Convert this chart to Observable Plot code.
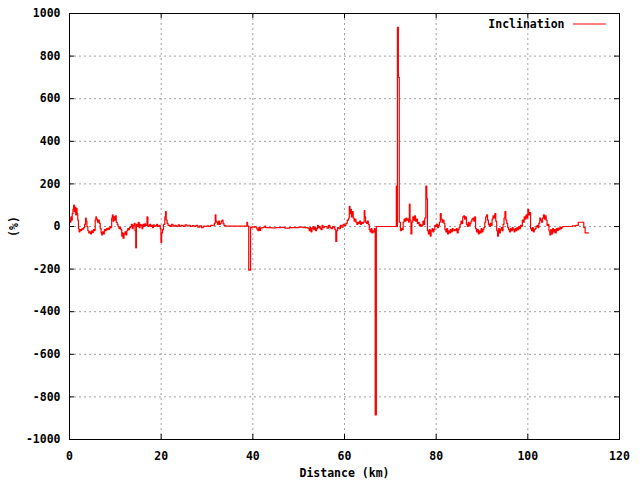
<!DOCTYPE html>
<html><head><meta charset="utf-8">
<script src="https://cdn.jsdelivr.net/npm/d3@7"></script>
<script src="https://cdn.jsdelivr.net/npm/@observablehq/plot@0.6"></script>
<style>body{margin:0;background:#fff} svg{display:block}</style>
</head><body><div id="chart"></div>
<script>
// [distance km, inclination %]
const profile = [
[0.0,35],[0.15,20],[0.3,45],[0.45,30],[0.6,60],[0.75,80],[0.9,100],[1.05,70],[1.2,90],[1.35,55],[1.5,85],[1.65,60],[1.8,30],[1.95,-10],
[2.1,-25],[2.3,-15],[2.5,-18],[2.7,-10],[2.9,-12],[3.1,-5],[3.3,10],[3.5,40],[3.65,25],[3.8,0],[4.0,-20],[4.2,-30],[4.4,-25],[4.6,-35],
[4.8,-20],[5.0,-28],[5.2,-15],[5.4,-20],[5.6,30],[5.75,45],[5.9,35],[6.1,20],[6.3,30],[6.5,15],[6.7,-10],[6.9,-30],[7.05,-40],[7.2,-25],
[7.4,-35],[7.6,-15],[7.8,-20],[8.0,-10],[8.2,-15],[8.4,-8],[8.6,-12],[8.8,0],[9.0,-5],[9.2,40],[9.35,55],[9.5,25],[9.65,45],[9.8,30],
[10.0,50],[10.2,20],[10.4,10],[10.6,0],[10.8,-10],[11.0,-5],[11.2,-15],[11.4,-45],[11.55,-30],[11.7,-55],[11.9,-35],[12.1,-25],[12.3,-40],
[12.5,-20],[12.7,-10],[12.9,-15],[13.1,-5],[13.3,0],[13.5,10],[13.7,-10],[13.9,5],[14.1,15],[14.3,-20],[14.45,-100],[14.6,10],[14.8,0],
[15.0,20],[15.2,-5],[15.4,10],[15.6,5],[15.8,-10],[16.0,10],[16.2,0],[16.4,12],[16.6,5],[16.9,45],[17.1,0],[17.3,5],[17.5,10],[17.7,0],
[17.9,5],[18.1,-5],[18.3,8],[18.5,0],[18.7,3],[19.0,10],[19.2,0],[19.5,5],[19.8,-10],[19.95,-75],[20.1,-30],[20.3,-15],[20.5,10],[20.8,45],
[20.95,70],[21.1,30],[21.3,15],[21.5,5],[21.8,5],[22.0,0],[22.3,10],[22.6,2],[23.0,5],[23.3,0],[23.7,8],[24.0,2],[24.4,5],[24.8,0],
[25.2,8],[25.6,3],[26.0,5],[26.4,0],[26.8,4],[27.2,0],[27.6,5],[28.0,-3],[28.4,3],[28.8,-5],[29.2,2],[29.6,0],[30.0,3],[30.4,0],[30.8,5],
[31.2,5],[31.6,15],[31.8,55],[31.95,25],[32.1,20],[32.3,10],[32.5,25],[32.7,10],[32.9,15],[33.1,25],[33.3,30],[33.5,15],[33.7,5],[34.0,2],
[38.7,20],[38.85,2],[39.1,-205],[39.5,-5],[39.8,-2],[40.1,-3],[40.4,0],[40.7,-5],[40.9,-12],[41.1,-20],[41.3,-5],[41.5,-18],[41.7,-8],
[42.0,-5],[42.3,-3],[42.6,2],[42.8,-5],[43.2,-5],[44.0,-6],[45.0,-5],[46.0,-4],[47.0,-8],[48.0,-5],[49.0,-5],[50.0,-3],[51.0,-5],[52.0,-8],
[52.3,-20],[52.5,-5],[52.7,-25],[52.9,-10],[53.1,0],[53.3,-15],[53.5,-5],[53.7,-20],[53.9,-10],[54.1,5],[54.3,-5],[54.5,0],[54.7,-10],
[54.9,-15],[55.1,5],[55.3,-5],[55.6,0],[55.9,0],[56.2,-8],[56.5,5],[56.8,-5],[57.1,-10],[57.4,0],[57.7,-5],[57.9,-15],[58.1,-70],[58.3,-20],
[58.5,-5],[58.8,-10],[59.1,5],[59.4,-3],[59.7,10],[60.0,5],[60.3,15],[60.6,30],[60.9,40],[61.05,95],[61.2,60],[61.35,80],[61.5,45],[61.7,70],
[61.9,40],[62.1,25],[62.3,35],[62.5,20],[62.7,10],[62.9,20],[63.1,15],[63.3,25],[63.5,10],[63.7,20],[63.9,15],[64.1,20],[64.3,75],[64.45,45],
[64.6,20],[64.8,15],[65.0,25],[65.2,10],[65.4,-15],[65.6,-25],[65.8,-10],[66.0,-30],[66.2,-20],[66.4,-25],[66.55,-10],[66.7,-885],[66.95,0],
[71.3,190],[71.45,0],[71.55,935],[71.75,700],[71.95,20],[72.2,-20],[72.4,-10],[72.6,-15],[72.8,20],[73.0,35],[73.2,25],[73.4,40],[73.6,30],
[73.8,35],[74.0,20],[74.15,105],[74.3,30],[74.5,-35],[74.7,20],[74.9,45],[75.1,30],[75.3,50],[75.5,25],[75.7,35],[75.9,15],[76.1,20],
[76.3,5],[76.5,10],[76.7,0],[76.9,5],[77.1,25],[77.3,10],[77.5,40],[77.75,190],[77.95,130],[78.1,-20],[78.3,-35],[78.5,-15],[78.7,-45],
[78.9,-20],[79.1,-10],[79.3,-25],[79.5,-15],[79.7,5],[79.9,0],[80.1,10],[80.3,-5],[80.5,5],[80.7,20],[80.9,60],[81.1,35],[81.3,20],[81.5,30],
[81.7,15],[81.9,-15],[82.1,-25],[82.3,-10],[82.5,-35],[82.7,-20],[82.9,-30],[83.1,-15],[83.3,-25],[83.5,-10],[83.7,-20],[84.0,-15],
[84.2,-20],[84.4,-10],[84.6,-30],[84.8,-15],[85.0,-5],[85.2,10],[85.4,25],[85.6,15],[85.8,45],[86.0,50],[86.2,35],[86.4,45],[86.6,10],
[86.8,0],[87.0,20],[87.2,5],[87.4,15],[87.6,25],[87.8,35],[88.0,40],[88.2,25],[88.4,45],[88.6,-10],[88.8,-25],[89.0,-15],[89.2,-35],
[89.4,-20],[89.6,-30],[89.8,-10],[90.0,-25],[90.2,-15],[90.4,-5],[90.6,20],[90.8,45],[91.0,55],[91.2,30],[91.4,10],[91.6,0],[91.8,15],
[92.0,5],[92.2,35],[92.4,50],[92.6,40],[92.8,60],[93.0,25],[93.2,-20],[93.4,-45],[93.6,-10],[93.8,-30],[94.0,-15],[94.2,-5],[94.4,-20],
[94.6,10],[94.8,40],[95.0,70],[95.2,30],[95.4,15],[95.6,-5],[95.8,-15],[96.0,-25],[96.2,-10],[96.4,-20],[96.6,-5],[96.8,-15],[97.0,-25],
[97.2,-10],[97.4,-20],[97.6,-5],[97.8,-15],[98.0,0],[98.2,-10],[98.4,5],[98.6,0],[98.8,30],[99.0,20],[99.2,45],[99.4,35],[99.6,55],[99.8,40],
[100.0,80],[100.2,55],[100.4,65],[100.6,-10],[100.8,-20],[101.0,-5],[101.2,-25],[101.4,-15],[101.6,-10],[101.8,0],[102.0,5],[102.2,-5],
[102.4,15],[102.6,40],[102.8,30],[103.0,20],[103.2,40],[103.4,55],[103.6,35],[103.8,50],[104.0,30],[104.2,5],[104.4,10],[104.6,-20],
[104.8,-40],[105.0,-15],[105.2,-35],[105.4,-10],[105.6,-25],[105.8,-15],[106.0,-30],[106.2,-10],[106.4,-20],[106.6,-8],[106.8,-15],
[107.0,-5],[107.2,-10],[107.4,-3],[107.6,0],[108.0,0],[109.0,0],[109.7,3],[110.5,5],[111.0,20],[112.2,-5],[112.5,-30],[113.2,-30]
];
const xTicks = [0, 20, 40, 60, 80, 100, 120];
const yTicks = [-1000, -800, -600, -400, -200, 0, 200, 400, 600, 800, 1000];
const xGrid = [20, 40, 60, 80, 100];
const yGrid = [-800, -600, -400, -200, 0, 200, 400, 600, 800];
const seriesName = "Inclination";
const xLabel = "Distance (km)";
const yLabel = "(%)";

const data = profile.map(([d, v]) => ({d, v}));
const font = "'DejaVu Sans Mono', monospace";
const gridStyle = {stroke: "#a0a0a0", strokeOpacity: 1, strokeDasharray: "2,3"};
const W = 640, H = 480, ML = 69, MR = 21, MT = 13, MB = 41;
const innerW = W - ML - MR, innerH = H - MT - MB, TICK = 5;
const fmt = d => String(d);

const svg = Plot.plot({
  width: W, height: H,
  marginLeft: ML, marginRight: MR, marginTop: MT, marginBottom: MB,
  style: {fontFamily: font, fontSize: "11.5px", fontWeight: "bold", background: "white", color: "black"},
  x: {domain: [0, 120]},
  y: {domain: [-1000, 1000]},
  marks: [
    Plot.gridX(xGrid, gridStyle),
    Plot.gridY(yGrid, gridStyle),
    Plot.lineY(data, {x: "d", y: "v", stroke: "red", strokeWidth: 1.2, curve: "step-after"}),
    // inward ticks on all four sides
    Plot.tickX(xTicks, {x: d => d, stroke: "black", insetTop: innerH - TICK}),
    Plot.tickX(xTicks, {x: d => d, stroke: "black", insetBottom: innerH - TICK}),
    Plot.tickY(yTicks, {y: d => d, stroke: "black", insetRight: innerW - TICK}),
    Plot.tickY(yTicks, {y: d => d, stroke: "black", insetLeft: innerW - TICK}),
    Plot.axisX(xTicks, {anchor: "bottom", tickSize: 0, tickPadding: 12, tickFormat: fmt, label: null}),
    Plot.axisY(yTicks, {anchor: "left", tickSize: 0, tickPadding: 9, tickFormat: fmt, label: null}),
    Plot.frame({stroke: "black", strokeWidth: 1}),
    Plot.text([xLabel], {frameAnchor: "bottom", dy: 34, lineAnchor: "middle", textAnchor: "middle"}),
    Plot.text([yLabel], {frameAnchor: "left", dx: -55, rotate: -90, lineAnchor: "middle", textAnchor: "middle"}),
    Plot.text([seriesName], {frameAnchor: "top-right", dx: -55, dy: 11, textAnchor: "end", lineAnchor: "middle"})
  ]
});

// legend swatch
d3.select(svg).append("line")
  .attr("x1", 573).attr("x2", 606).attr("y1", 24).attr("y2", 24)
  .attr("stroke", "red").attr("stroke-width", 1);

document.getElementById("chart").appendChild(svg);
</script>
</body></html>
